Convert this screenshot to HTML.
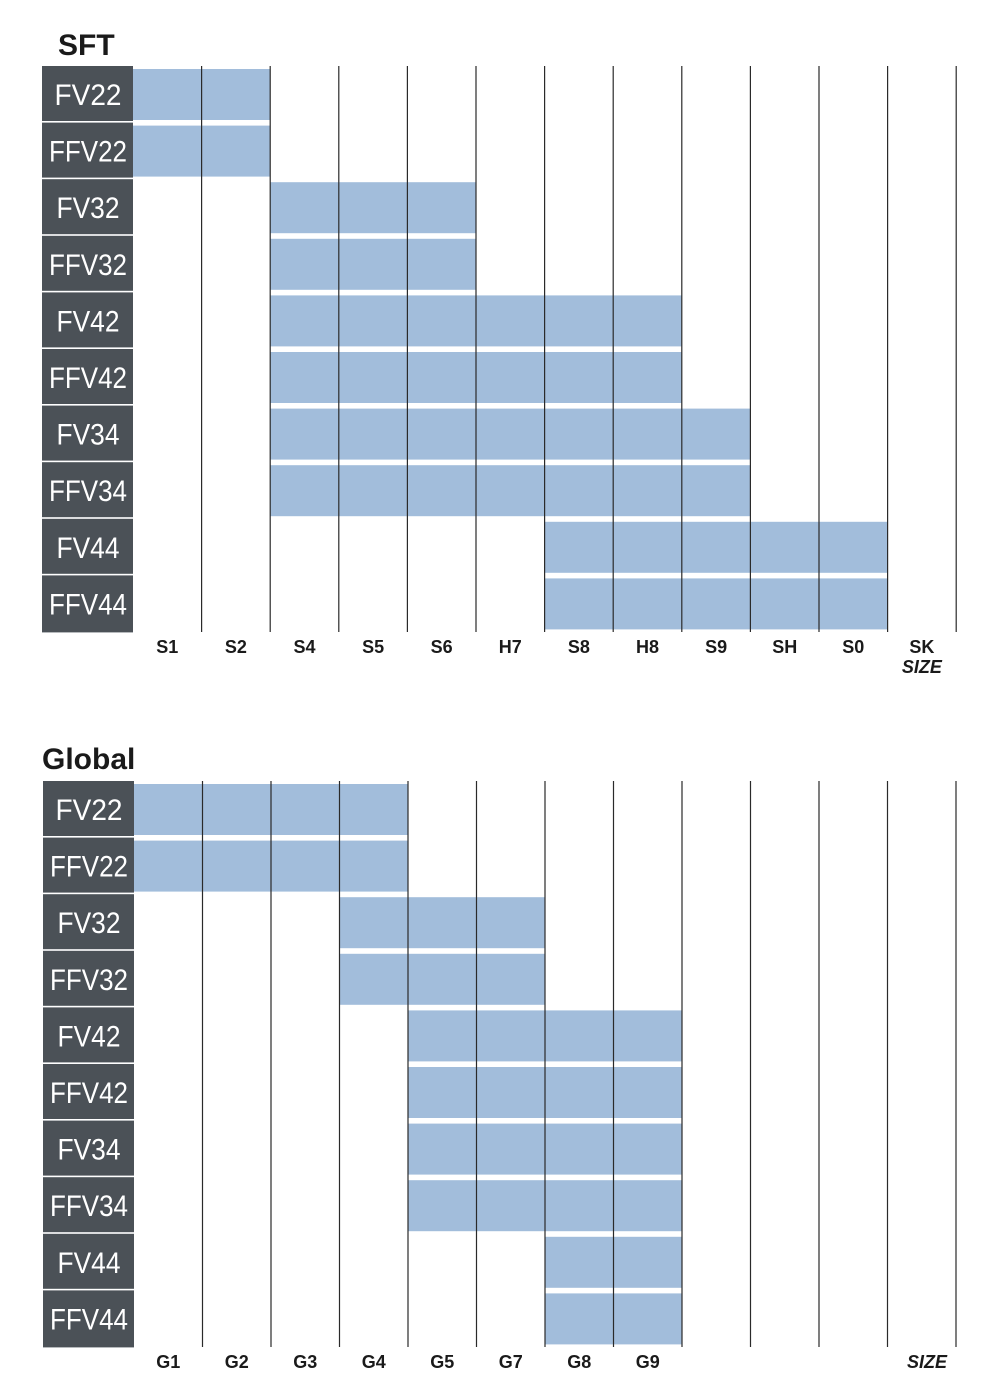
<!DOCTYPE html>
<html><head><meta charset="utf-8"><style>
html,body{margin:0;padding:0;background:#fff;width:1000px;height:1397px;overflow:hidden}
svg{display:block}
.lab{font-family:"Liberation Sans",sans-serif;font-size:30px;fill:#fff;text-anchor:middle}
.t{font-family:"Liberation Sans",sans-serif;font-size:18px;font-weight:bold;fill:#1a1a1a;text-anchor:middle}
.ti{font-family:"Liberation Sans",sans-serif;font-size:30px;font-weight:bold;fill:#1a1a1a}
.c{fill:#4b5157}.b{fill:#a2bddb}
line{stroke:#2a2a2a;stroke-width:1.2}
</style></head><body>
<svg width="1000" height="1397" viewBox="0 0 1000 1397">
<text class="ti" x="58" y="55">SFT</text>
<g>
<rect class="c" x="42" y="66" width="91" height="55"/>
<rect class="c" x="42" y="122.6" width="91" height="55"/>
<rect class="c" x="42" y="179.2" width="91" height="55"/>
<rect class="c" x="42" y="235.8" width="91" height="55"/>
<rect class="c" x="42" y="292.4" width="91" height="55"/>
<rect class="c" x="42" y="349" width="91" height="55"/>
<rect class="c" x="42" y="405.6" width="91" height="55"/>
<rect class="c" x="42" y="462.2" width="91" height="55"/>
<rect class="c" x="42" y="518.8" width="91" height="55"/>
<rect class="c" x="42" y="575.4" width="91" height="57"/>
<text class="lab" x="88" y="105" textLength="67" lengthAdjust="spacingAndGlyphs">FV22</text>
<text class="lab" x="88" y="161.6" textLength="78" lengthAdjust="spacingAndGlyphs">FFV22</text>
<text class="lab" x="88" y="218.2" textLength="63" lengthAdjust="spacingAndGlyphs">FV32</text>
<text class="lab" x="88" y="274.8" textLength="78" lengthAdjust="spacingAndGlyphs">FFV32</text>
<text class="lab" x="88" y="331.4" textLength="63" lengthAdjust="spacingAndGlyphs">FV42</text>
<text class="lab" x="88" y="388" textLength="78" lengthAdjust="spacingAndGlyphs">FFV42</text>
<text class="lab" x="88" y="444.6" textLength="63" lengthAdjust="spacingAndGlyphs">FV34</text>
<text class="lab" x="88" y="501.2" textLength="78" lengthAdjust="spacingAndGlyphs">FFV34</text>
<text class="lab" x="88" y="557.8" textLength="63" lengthAdjust="spacingAndGlyphs">FV44</text>
<text class="lab" x="88" y="614.4" textLength="78" lengthAdjust="spacingAndGlyphs">FFV44</text>
</g>
<rect class="b" x="133" y="69" width="137.2" height="51"/>
<rect class="b" x="133" y="125.6" width="137.2" height="51"/>
<rect class="b" x="270.2" y="182.2" width="205.8" height="51"/>
<rect class="b" x="270.2" y="238.8" width="205.8" height="51"/>
<rect class="b" x="270.2" y="295.4" width="411.6" height="51"/>
<rect class="b" x="270.2" y="352" width="411.6" height="51"/>
<rect class="b" x="270.2" y="408.6" width="480.2" height="51"/>
<rect class="b" x="270.2" y="465.2" width="480.2" height="51"/>
<rect class="b" x="544.6" y="521.8" width="343" height="51"/>
<rect class="b" x="544.6" y="578.4" width="343" height="51"/>
<g>
<line x1="201.6" y1="66" x2="201.6" y2="632"/>
<line x1="270.2" y1="66" x2="270.2" y2="632"/>
<line x1="338.8" y1="66" x2="338.8" y2="632"/>
<line x1="407.4" y1="66" x2="407.4" y2="632"/>
<line x1="476" y1="66" x2="476" y2="632"/>
<line x1="544.6" y1="66" x2="544.6" y2="632"/>
<line x1="613.2" y1="66" x2="613.2" y2="632"/>
<line x1="681.8" y1="66" x2="681.8" y2="632"/>
<line x1="750.4" y1="66" x2="750.4" y2="632"/>
<line x1="819" y1="66" x2="819" y2="632"/>
<line x1="887.6" y1="66" x2="887.6" y2="632"/>
<line x1="956.2" y1="66" x2="956.2" y2="632"/>
</g>
<text class="t" x="167.3" y="653">S1</text>
<text class="t" x="235.9" y="653">S2</text>
<text class="t" x="304.5" y="653">S4</text>
<text class="t" x="373.1" y="653">S5</text>
<text class="t" x="441.7" y="653">S6</text>
<text class="t" x="510.3" y="653">H7</text>
<text class="t" x="578.9" y="653">S8</text>
<text class="t" x="647.5" y="653">H8</text>
<text class="t" x="716.1" y="653">S9</text>
<text class="t" x="784.7" y="653">SH</text>
<text class="t" x="853.3" y="653">S0</text>
<text class="t" x="921.9" y="653">SK</text>
<text class="t" x="921.9" y="673" font-style="italic">SIZE</text>

<text class="ti" x="42" y="769">Global</text>
<g>
<rect class="c" x="43" y="781" width="91" height="55"/>
<rect class="c" x="43" y="837.6" width="91" height="55"/>
<rect class="c" x="43" y="894.2" width="91" height="55"/>
<rect class="c" x="43" y="950.8" width="91" height="55"/>
<rect class="c" x="43" y="1007.4" width="91" height="55"/>
<rect class="c" x="43" y="1064" width="91" height="55"/>
<rect class="c" x="43" y="1120.6" width="91" height="55"/>
<rect class="c" x="43" y="1177.2" width="91" height="55"/>
<rect class="c" x="43" y="1233.8" width="91" height="55"/>
<rect class="c" x="43" y="1290.4" width="91" height="57"/>
<text class="lab" x="89" y="820" textLength="67" lengthAdjust="spacingAndGlyphs">FV22</text>
<text class="lab" x="89" y="876.6" textLength="78" lengthAdjust="spacingAndGlyphs">FFV22</text>
<text class="lab" x="89" y="933.2" textLength="63" lengthAdjust="spacingAndGlyphs">FV32</text>
<text class="lab" x="89" y="989.8" textLength="78" lengthAdjust="spacingAndGlyphs">FFV32</text>
<text class="lab" x="89" y="1046.4" textLength="63" lengthAdjust="spacingAndGlyphs">FV42</text>
<text class="lab" x="89" y="1103" textLength="78" lengthAdjust="spacingAndGlyphs">FFV42</text>
<text class="lab" x="89" y="1159.6" textLength="63" lengthAdjust="spacingAndGlyphs">FV34</text>
<text class="lab" x="89" y="1216.2" textLength="78" lengthAdjust="spacingAndGlyphs">FFV34</text>
<text class="lab" x="89" y="1272.8" textLength="63" lengthAdjust="spacingAndGlyphs">FV44</text>
<text class="lab" x="89" y="1329.4" textLength="78" lengthAdjust="spacingAndGlyphs">FFV44</text>
</g>
<rect class="b" x="134" y="784" width="274" height="51"/>
<rect class="b" x="134" y="840.6" width="274" height="51"/>
<rect class="b" x="339.5" y="897.2" width="205.5" height="51"/>
<rect class="b" x="339.5" y="953.8" width="205.5" height="51"/>
<rect class="b" x="408" y="1010.4" width="274" height="51"/>
<rect class="b" x="408" y="1067" width="274" height="51"/>
<rect class="b" x="408" y="1123.6" width="274" height="51"/>
<rect class="b" x="408" y="1180.2" width="274" height="51"/>
<rect class="b" x="545" y="1236.8" width="137" height="51"/>
<rect class="b" x="545" y="1293.4" width="137" height="51"/>
<g>
<line x1="202.5" y1="781" x2="202.5" y2="1347"/>
<line x1="271" y1="781" x2="271" y2="1347"/>
<line x1="339.5" y1="781" x2="339.5" y2="1347"/>
<line x1="408" y1="781" x2="408" y2="1347"/>
<line x1="476.5" y1="781" x2="476.5" y2="1347"/>
<line x1="545" y1="781" x2="545" y2="1347"/>
<line x1="613.5" y1="781" x2="613.5" y2="1347"/>
<line x1="682" y1="781" x2="682" y2="1347"/>
<line x1="750.5" y1="781" x2="750.5" y2="1347"/>
<line x1="819" y1="781" x2="819" y2="1347"/>
<line x1="887.5" y1="781" x2="887.5" y2="1347"/>
<line x1="956" y1="781" x2="956" y2="1347"/>
</g>
<text class="t" x="168.2" y="1368">G1</text>
<text class="t" x="236.7" y="1368">G2</text>
<text class="t" x="305.2" y="1368">G3</text>
<text class="t" x="373.7" y="1368">G4</text>
<text class="t" x="442.2" y="1368">G5</text>
<text class="t" x="510.7" y="1368">G7</text>
<text class="t" x="579.2" y="1368">G8</text>
<text class="t" x="647.7" y="1368">G9</text>
<text class="t" x="927" y="1368" font-style="italic">SIZE</text>
</svg>
</body></html>
